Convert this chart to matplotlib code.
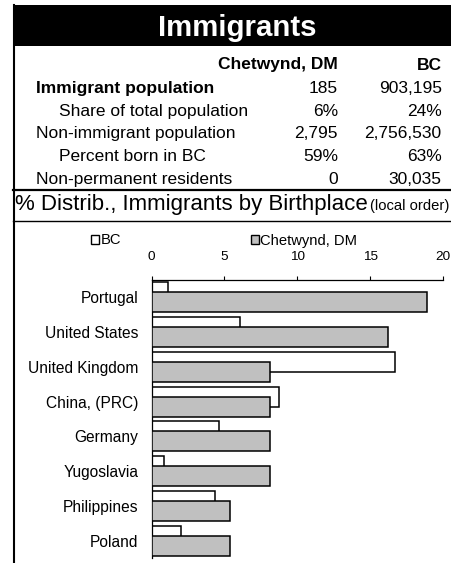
import numpy as np
import matplotlib
matplotlib.use("Agg")
import matplotlib.pyplot as plt
from matplotlib.patches import Rectangle, Patch
from matplotlib.lines import Line2D

plt.rcParams['font.family'] = ['Liberation Sans', 'DejaVu Sans']

# ---- data ----
title = "Immigrants"
col_headers = ["Chetwynd, DM", "BC"]
row_labels = ["Immigrant population", "Share of total population",
              "Non-immigrant population", "Percent born in BC",
              "Non-permanent residents"]
row_bold = [True, False, False, False, False]
row_indent = [False, True, False, True, False]
chet_values = ["185", "6%", "2,795", "59%", "0"]
bc_values = ["903,195", "24%", "2,756,530", "63%", "30,035"]

chart_title = "% Distrib., Immigrants by Birthplace"
chart_subtitle = "(local order)"
categories = ["Portugal", "United States", "United Kingdom", "China, (PRC)",
              "Germany", "Yugoslavia", "Philippines", "Poland"]
bc_pct = [1.15, 6.1, 16.7, 8.75, 4.65, 0.85, 4.35, 2.05]
chet_pct = [18.9, 16.2, 8.1, 8.1, 8.1, 8.1, 5.4, 5.4]
series_names = ["BC", "Chetwynd, DM"]
xticks = [0, 5, 10, 15, 20]

W, H = 451, 563
fig = plt.figure(figsize=(W / 100, H / 100), dpi=100)


def fx(x):
    return x / W


def fy(y):
    return 1 - y / H


# header block
fig.add_artist(Rectangle((fx(13), fy(46)), fx(460 - 13), 41 / H,
                         transform=fig.transFigure, facecolor='black',
                         edgecolor='none'))
fig.text(fx(237.5), fy(36), title, color='white', fontsize=21.2,
         fontweight='bold', ha='center', va='baseline')

# left border
fig.add_artist(Line2D([fx(13.7), fx(13.7)], [fy(5), fy(563)], color='black',
                      lw=1.5, transform=fig.transFigure))

# table
tfs = 12.5
fig.text(fx(338), fy(69.5), col_headers[0], fontsize=tfs, fontweight='bold',
         ha='right', va='baseline')
fig.text(fx(441.7), fy(69.5), col_headers[1], fontsize=tfs, fontweight='bold',
         ha='right', va='baseline')
row_base = [92.7, 116, 138.3, 161, 184.3]
for lab, b, ind, cv, bv, yb in zip(row_labels, row_bold, row_indent,
                                   chet_values, bc_values, row_base):
    fig.text(fx(59 if ind else 36), fy(yb), lab, fontsize=tfs,
             fontweight='bold' if b else 'normal', ha='left', va='baseline')
    fig.text(fx(338), fy(yb), cv, fontsize=tfs, ha='right', va='baseline')
    fig.text(fx(441.7), fy(yb), bv, fontsize=tfs, ha='right', va='baseline')

# separators
fig.add_artist(Line2D([fx(13), 1], [fy(190), fy(190)], color='black', lw=1.6,
                      transform=fig.transFigure))
fig.add_artist(Line2D([fx(13), 1], [fy(221), fy(221)], color='black', lw=1.0,
                      transform=fig.transFigure))

fig.text(fx(15), fy(210), chart_title, fontsize=16, ha='left', va='baseline')
fig.text(fx(370.5), fy(210), chart_subtitle, fontsize=10.6, ha='left',
         va='baseline')

# chart
ax = fig.add_axes([fx(151.5), fy(558), fx(443.3 - 151.5), 278 / H])
y = np.arange(len(categories))
h = 0.5755
off = 0.144
ax.barh(y - off, bc_pct, height=h, color='white', edgecolor='black',
        lw=1.1, label=series_names[0], zorder=2)
ax.barh(y + off, chet_pct, height=h, color='#C0C0C0', edgecolor='black',
        lw=1.1, label=series_names[1], zorder=3)
ax.set_xlim(0, 20)
ax.set_ylim(len(categories) - 0.5, -0.5)
ax.xaxis.tick_top()
ax.set_xticks(xticks)
ax.set_xticklabels([str(t) for t in xticks])
ax.tick_params(axis='x', direction='out', length=3, width=0.8, pad=9,
               labelsize=9.7, colors='black')
ax.set_yticks(y)
ax.set_yticklabels(categories)
ax.tick_params(axis='y', length=0, pad=9.5, labelsize=11.2)
for s in ['right', 'bottom']:
    ax.spines[s].set_visible(False)
for s in ['left', 'top']:
    ax.spines[s].set_linewidth(0.9)
ax.set_facecolor('none')

handles = [Patch(facecolor='white', edgecolor='black', lw=1.0),
           Patch(facecolor='#C0C0C0', edgecolor='black', lw=1.0)]
fig.legend(handles, series_names, loc='center left',
           bbox_to_anchor=(fx(91.2), fy(240.5)), ncol=2, frameon=False,
           fontsize=10.6, handlelength=0.55, handleheight=0.55,
           handletextpad=0.1, columnspacing=8.8, borderpad=0,
           borderaxespad=0)

fig.savefig("out.png", dpi=100)
